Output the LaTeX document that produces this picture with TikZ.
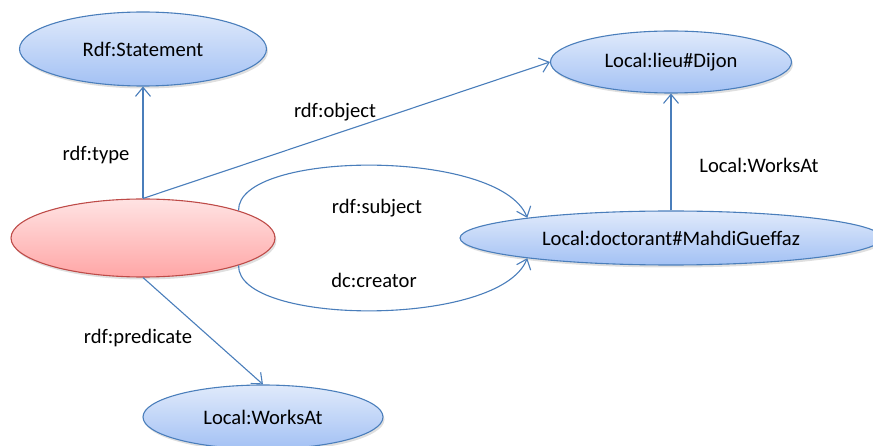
\documentclass[tikz,border=0pt]{standalone}
\usepackage{fontspec}
\setmainfont{Carlito}
\usetikzlibrary{shapes.geometric,arrows.meta,shadows}
\definecolor{edgeblue}{HTML}{4A7EBB}
\definecolor{bluetop}{HTML}{E0EAFB}
\definecolor{bluebot}{HTML}{A3C1F4}
\definecolor{redtop}{HTML}{FFE3E3}
\definecolor{redbot}{HTML}{FFA6A6}
\definecolor{redline}{HTML}{BE4B48}
\begin{document}
\begin{tikzpicture}[x=1pt,y=-1pt,
  every node/.style={font=\fontsize{20.6}{24}\selectfont, inner sep=0pt},
  bluell/.style={ellipse, draw=edgeblue, line width=1.1pt, top color=bluetop, bottom color=bluebot,
    drop shadow={opacity=0.25, shadow xshift=1.5pt, shadow yshift=-2.5pt}},
  redell/.style={ellipse, draw=redline, line width=1.1pt, top color=redtop, bottom color=redbot,
    drop shadow={opacity=0.25, shadow xshift=1.5pt, shadow yshift=-2.5pt}},
  conn/.style={draw=edgeblue, line width=1.1pt, -{Straight Barb[length=9pt,width=15pt,line width=1.1pt]}},
  lbl/.style={text=black}]
\useasboundingbox (0,0) rectangle (873,446);
\node[bluell, minimum width=247pt, minimum height=74pt] (st) at (143,49) {Rdf:Statement};
\node[redell, minimum width=264pt, minimum height=78pt] (res) at (143,238) {};
\node[bluell, minimum width=241pt, minimum height=62pt] (dijon) at (671,62) {Local:lieu\#Dijon};
\node[bluell, minimum width=422pt, minimum height=54pt] (doc) at (671,238) {Local:doctorant\#MahdiGueffaz};
\node[bluell, minimum width=240pt, minimum height=64pt] (works) at (263,417) {Local:WorksAt};

\draw[conn] (res.north) -- (st.south);
\draw[conn] (res.north) -- (dijon.west);
\draw[conn] (res.16) .. controls (237,150) and (500,148) .. (doc.172);
\draw[conn] (res.-16) .. controls (237,326) and (500,328) .. (doc.-172);
\draw[conn] (doc.north) -- (dijon.south);
\draw[conn] (res.south) -- (works.north);

\node[lbl] (ltype) at (96,155) {rdf:type};
\node[lbl] (lobj) at (335,112) {rdf:object};
\node[lbl] (lsubj) at (377,208) {rdf:subject};
\node[lbl] (lcreator) at (374,280) {dc:creator};
\node[lbl] (lworks) at (759,165) {Local:WorksAt};
\node[lbl] (lpred) at (138,338) {rdf:predicate};
\end{tikzpicture}
\end{document}
